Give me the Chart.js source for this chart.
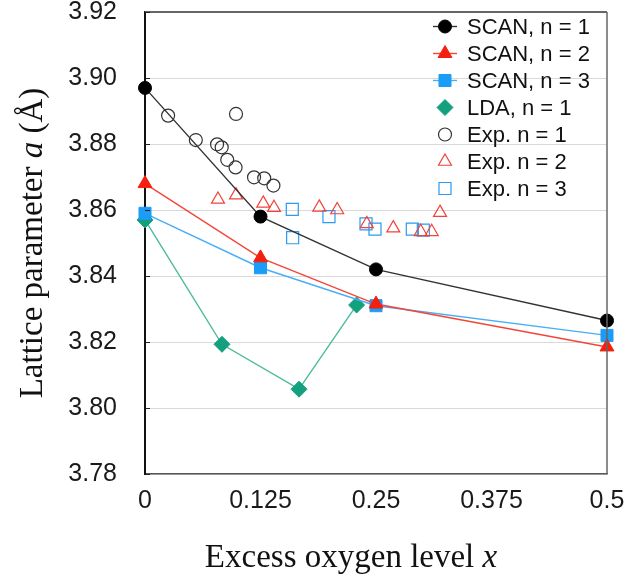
<!DOCTYPE html>
<html>
<head>
<meta charset="utf-8">
<script src="https://cdn.jsdelivr.net/npm/chart.js@4.4.0/dist/chart.umd.min.js"></script>
<style>
  html, body { margin: 0; padding: 0; background: #fff; }
  #wrap { width: 624px; height: 581px; }
</style>
</head>
<body>
<div id="wrap"><canvas id="latticeChart" width="624" height="581"></canvas></div>
<script>
// Lattice parameter a (Å) vs excess oxygen level x
const scanX = [0, 0.125, 0.25, 0.5];
const scanN1 = [3.897, 3.858, 3.842, 3.8265];
const scanN2 = [3.868, 3.8455, 3.8315, 3.8185];
const scanN3 = [3.859, 3.8425, 3.831, 3.822];

const ldaX = [0, 0.0833, 0.1667, 0.229];
const ldaN1 = [3.857, 3.8193, 3.8057, 3.8312];

const expN1X = [0.025, 0.055, 0.078, 0.083, 0.089, 0.098, 0.0985, 0.118, 0.129, 0.139];
const expN1Y = [3.8886, 3.8812, 3.8799, 3.879, 3.8752, 3.8729, 3.8891, 3.8699, 3.8696, 3.8674];

const expN2X = [0.079, 0.0985, 0.128, 0.1396, 0.1886, 0.208, 0.24, 0.2687, 0.2984, 0.3103, 0.3193];
const expN2Y = [3.8632, 3.8645, 3.862, 3.8607, 3.8608, 3.86, 3.8558, 3.8545, 3.8534, 3.8534, 3.8592];

const expN3X = [0.1594, 0.1598, 0.1991, 0.2392, 0.2489, 0.2893, 0.3012];
const expN3Y = [3.8602, 3.8516, 3.858, 3.8558, 3.8542, 3.8542, 3.8539];

const xTicks = [0, 0.125, 0.25, 0.375, 0.5];
const yTicks = [3.78, 3.80, 3.82, 3.84, 3.86, 3.88, 3.90, 3.92];

const xTitle = [{ text: 'Excess oxygen level ' }, { text: 'x', italic: true }];
const yTitle = [{ text: 'Lattice parameter ' }, { text: 'a', italic: true }, { text: ' (Å)' }];

function pts(xs, ys) {
    return xs.map((x, i) => ({ x: x, y: ys[i] }));
}

const datasets = [
    {
        label: 'SCAN, n = 1', data: pts(scanX, scanN1), showLine: true, order: 0,
        borderColor: '#333333', borderWidth: 1.4, pointStyle: 'circle', pointRadius: 6.5,
        pointBackgroundColor: '#000', pointBorderColor: '#000', pointBorderWidth: 1, legendLine: true
    },
    {
        label: 'SCAN, n = 2', data: pts(scanX, scanN2), showLine: true, order: 1,
        borderColor: '#f2463a', borderWidth: 1.4, pointStyle: 'triangle', pointRadius: 8,
        pointBackgroundColor: '#f4200f', pointBorderColor: '#f4200f', pointBorderWidth: 1, legendLine: true
    },
    {
        label: 'SCAN, n = 3', data: pts(scanX, scanN3), showLine: true, order: 2,
        borderColor: '#4aaef5', borderWidth: 1.4, pointStyle: 'rect', pointRadius: 8.5,
        pointBackgroundColor: '#1b9cf7', pointBorderColor: '#1b9cf7', pointBorderWidth: 1, legendLine: true
    },
    {
        label: 'LDA, n = 1', data: pts(ldaX, ldaN1), showLine: true, order: 3,
        borderColor: '#4cbb9c', borderWidth: 1.4, pointStyle: 'rectRot', pointRadius: 8,
        pointBackgroundColor: '#13a07e', pointBorderColor: '#13a07e', pointBorderWidth: 1, legendLine: false
    },
    {
        label: 'Exp. n = 1', data: pts(expN1X, expN1Y), showLine: false, order: 4,
        pointStyle: 'circle', pointRadius: 6.5,
        pointBackgroundColor: 'rgba(0,0,0,0)', pointBorderColor: '#333', pointBorderWidth: 1.2, legendLine: false
    },
    {
        label: 'Exp. n = 2', data: pts(expN2X, expN2Y), showLine: false, order: 5,
        pointStyle: 'triangle', pointRadius: 7.5,
        pointBackgroundColor: 'rgba(0,0,0,0)', pointBorderColor: '#f0433a', pointBorderWidth: 1.2, legendLine: false
    },
    {
        label: 'Exp. n = 3', data: pts(expN3X, expN3Y), showLine: false, order: 6,
        pointStyle: 'rect', pointRadius: 8.5,
        pointBackgroundColor: 'rgba(0,0,0,0)', pointBorderColor: '#2b9af0', pointBorderWidth: 1.2, legendLine: false
    }
];
datasets.forEach(d => { d.clip = false; d.fill = false; d.tension = 0; });

// Frame, tick marks, legend and axis titles
const decorPlugin = {
    id: 'decor',
    afterDraw(chart) {
        const ctx = chart.ctx;
        const area = chart.chartArea;
        const yScale = chart.scales.y;
        ctx.save();

        // top and right frame
        ctx.strokeStyle = '#666';
        ctx.lineWidth = 2;
        ctx.beginPath();
        ctx.moveTo(area.left, area.top);
        ctx.lineTo(area.right, area.top);
        ctx.stroke();
        ctx.lineWidth = 1.5;
        ctx.beginPath();
        ctx.moveTo(area.right, area.top);
        ctx.lineTo(area.right, area.bottom);
        ctx.stroke();

        // small inward ticks on y axis
        ctx.strokeStyle = '#222';
        ctx.lineWidth = 1;
        yTicks.forEach(v => {
            const y = Math.round(yScale.getPixelForValue(v)) + 0.5;
            ctx.beginPath();
            ctx.moveTo(area.left, y);
            ctx.lineTo(area.left + 5, y);
            ctx.stroke();
        });

        // legend
        const lx = 445, ly0 = 26.5, step = 27;
        ctx.textBaseline = 'middle';
        ctx.textAlign = 'left';
        chart.data.datasets.forEach((ds, i) => {
            const y = ly0 + i * step;
            if (ds.legendLine) {
                ctx.strokeStyle = ds.borderColor;
                ctx.lineWidth = ds.borderWidth;
                ctx.beginPath();
                ctx.moveTo(lx - 12, y);
                ctx.lineTo(lx + 12, y);
                ctx.stroke();
            }
            ctx.fillStyle = ds.pointBackgroundColor;
            ctx.strokeStyle = ds.pointBorderColor;
            ctx.lineWidth = ds.pointBorderWidth;
            Chart.helpers.drawPoint(ctx, {
                pointStyle: ds.pointStyle, radius: ds.pointRadius, rotation: 0, borderWidth: ds.pointBorderWidth
            }, lx, y);
            ctx.fillStyle = '#111';
            ctx.font = '22px "Liberation Sans", Arial, sans-serif';
            ctx.fillText(ds.label, 467, y + 1);
        });

        // axis titles
        ctx.fillStyle = '#111';
        drawMixed(ctx, xTitle, 351, 558);
        ctx.translate(33, 243);
        ctx.rotate(-Math.PI / 2);
        drawMixed(ctx, yTitle, 0, 0);
        ctx.restore();
    }
};

function drawMixed(ctx, parts, cx, cy) {
    const fontFor = p => (p.italic ? 'italic ' : '') + '33px "Liberation Serif", "Times New Roman", serif';
    let total = 0;
    const widths = parts.map(p => {
        ctx.font = fontFor(p);
        const w = ctx.measureText(p.text).width;
        total += w;
        return w;
    });
    let x = cx - total / 2;
    ctx.textBaseline = 'middle';
    ctx.textAlign = 'left';
    parts.forEach((p, i) => {
        ctx.font = fontFor(p);
        ctx.fillText(p.text, x, cy);
        x += widths[i];
    });
}

function noPadding(scale) {
    scale.paddingTop = 0;
    scale.paddingBottom = 0;
    scale.paddingLeft = 0;
    scale.paddingRight = 0;
}

const tickFont = { family: '"Liberation Sans", Arial, sans-serif', size: 25 };

new Chart(document.getElementById('latticeChart'), {
    type: 'scatter',
    data: { datasets: datasets },
    options: {
        responsive: false,
        animation: false,
        devicePixelRatio: 1,
        layout: { padding: { top: 12, right: 17, left: 0, bottom: 0 } },
        plugins: {
            legend: { display: false },
            tooltip: { enabled: false }
        },
        scales: {
            x: {
                type: 'linear',
                min: 0,
                max: 0.5,
                afterBuildTicks: scale => { scale.ticks = xTicks.map(v => ({ value: v })); },
                afterFit: scale => { scale.height = 107; noPadding(scale); },
                grid: { display: false, drawTicks: false },
                border: { display: true, color: '#555', width: 1.5 },
                ticks: {
                    font: tickFont,
                    color: '#1a1a1a',
                    padding: 12,
                    maxRotation: 0,
                    autoSkip: false,
                    callback: v => String(v)
                }
            },
            y: {
                type: 'linear',
                min: 3.78,
                max: 3.92,
                afterBuildTicks: scale => { scale.ticks = yTicks.map(v => ({ value: v })); },
                afterFit: scale => { scale.width = 145; noPadding(scale); },
                grid: { color: '#d9d9d9', lineWidth: 1, drawTicks: false },
                border: { display: true, color: '#111', width: 2 },
                ticks: {
                    font: tickFont,
                    color: '#1a1a1a',
                    padding: 28,
                    autoSkip: false,
                    callback: v => v.toFixed(2)
                }
            }
        }
    },
    plugins: [decorPlugin]
});
</script>
</body>
</html>
